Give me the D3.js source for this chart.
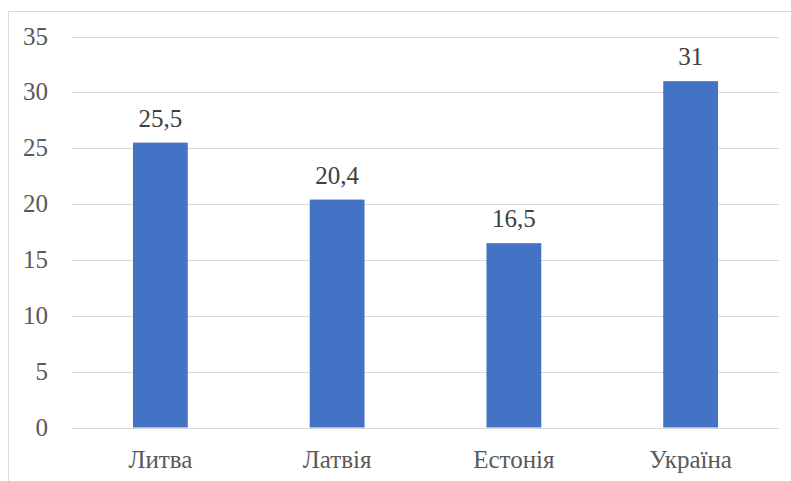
<!DOCTYPE html>
<html><head><meta charset="UTF-8"><script src="https://cdn.jsdelivr.net/npm/d3@7"></script></head>
<body style="margin:0">
<script>
const categories = ["Литва", "Латвія", "Естонія", "Україна"];
const values = [25.5, 20.4, 16.5, 31];
const valueLabels = ["25,5", "20,4", "16,5", "31"];
const yTicks = [0, 5, 10, 15, 20, 25, 30, 35];

const w = 791, h = 481;
const plotLeft = 72, plotRight = 779, plotTop = 36.5, plotBottom = 427.5;
const font = "'Times New Roman', 'Liberation Serif', Tinos";

const svg = d3.select("body").append("svg").attr("width", w).attr("height", h);

// outer frame
svg.append("rect")
    .attr("x", 8.5).attr("y", 11.5)
    .attr("width", w).attr("height", h)
    .attr("fill", "none")
    .attr("stroke", "#d9d9d9");

const x = d3.scaleBand()
    .domain(categories)
    .range([plotLeft, plotRight])
    .paddingInner(0.69)
    .paddingOuter(0.345);

const y = d3.scaleLinear()
    .domain([0, 35])
    .range([plotBottom, plotTop]);

svg.append("g")
    .selectAll("line")
    .data(yTicks)
    .enter()
    .append("line")
    .attr("x1", plotLeft).attr("x2", plotRight)
    .attr("y1", d => Math.round(y(d)) + 0.5)
    .attr("y2", d => Math.round(y(d)) + 0.5)
    .attr("stroke", "#d9d9d9");

svg.selectAll("rect.bar")
    .data(values)
    .enter()
    .append("rect")
    .attr("class", "bar")
    .attr("x", (d, i) => x(categories[i]))
    .attr("y", d => y(d))
    .attr("width", x.bandwidth())
    .attr("height", d => plotBottom - y(d))
    .attr("fill", "#4472c4");

function label(sel) {
    sel.attr("font-family", font)
       .style("font-family", font)
       .style("font-size", "25px");
}

svg.selectAll("text.val")
    .data(values)
    .enter()
    .append("text")
    .attr("class", "val")
    .attr("x", (d, i) => x(categories[i]) + x.bandwidth() / 2)
    .attr("y", d => y(d) - 16)
    .attr("text-anchor", "middle")
    .call(label)
    .style("fill", "#404040")
    .text((d, i) => valueLabels[i]);

// y tick labels
svg.selectAll("text.ytick")
    .data(yTicks)
    .enter()
    .append("text")
    .attr("class", "ytick")
    .attr("x", 48)
    .attr("y", d => y(d))
    .attr("dy", "0.32em")
    .attr("text-anchor", "end")
    .call(label)
    .style("fill", "#595959")
    .text(d => d);

// category labels
svg.selectAll("text.xtick")
    .data(categories)
    .enter()
    .append("text")
    .attr("class", "xtick")
    .attr("x", d => x(d) + x.bandwidth() / 2)
    .attr("y", plotBottom + 40)
    .attr("text-anchor", "middle")
    .call(label)
    .style("fill", "#595959")
    .text(d => d);
</script></body></html>
